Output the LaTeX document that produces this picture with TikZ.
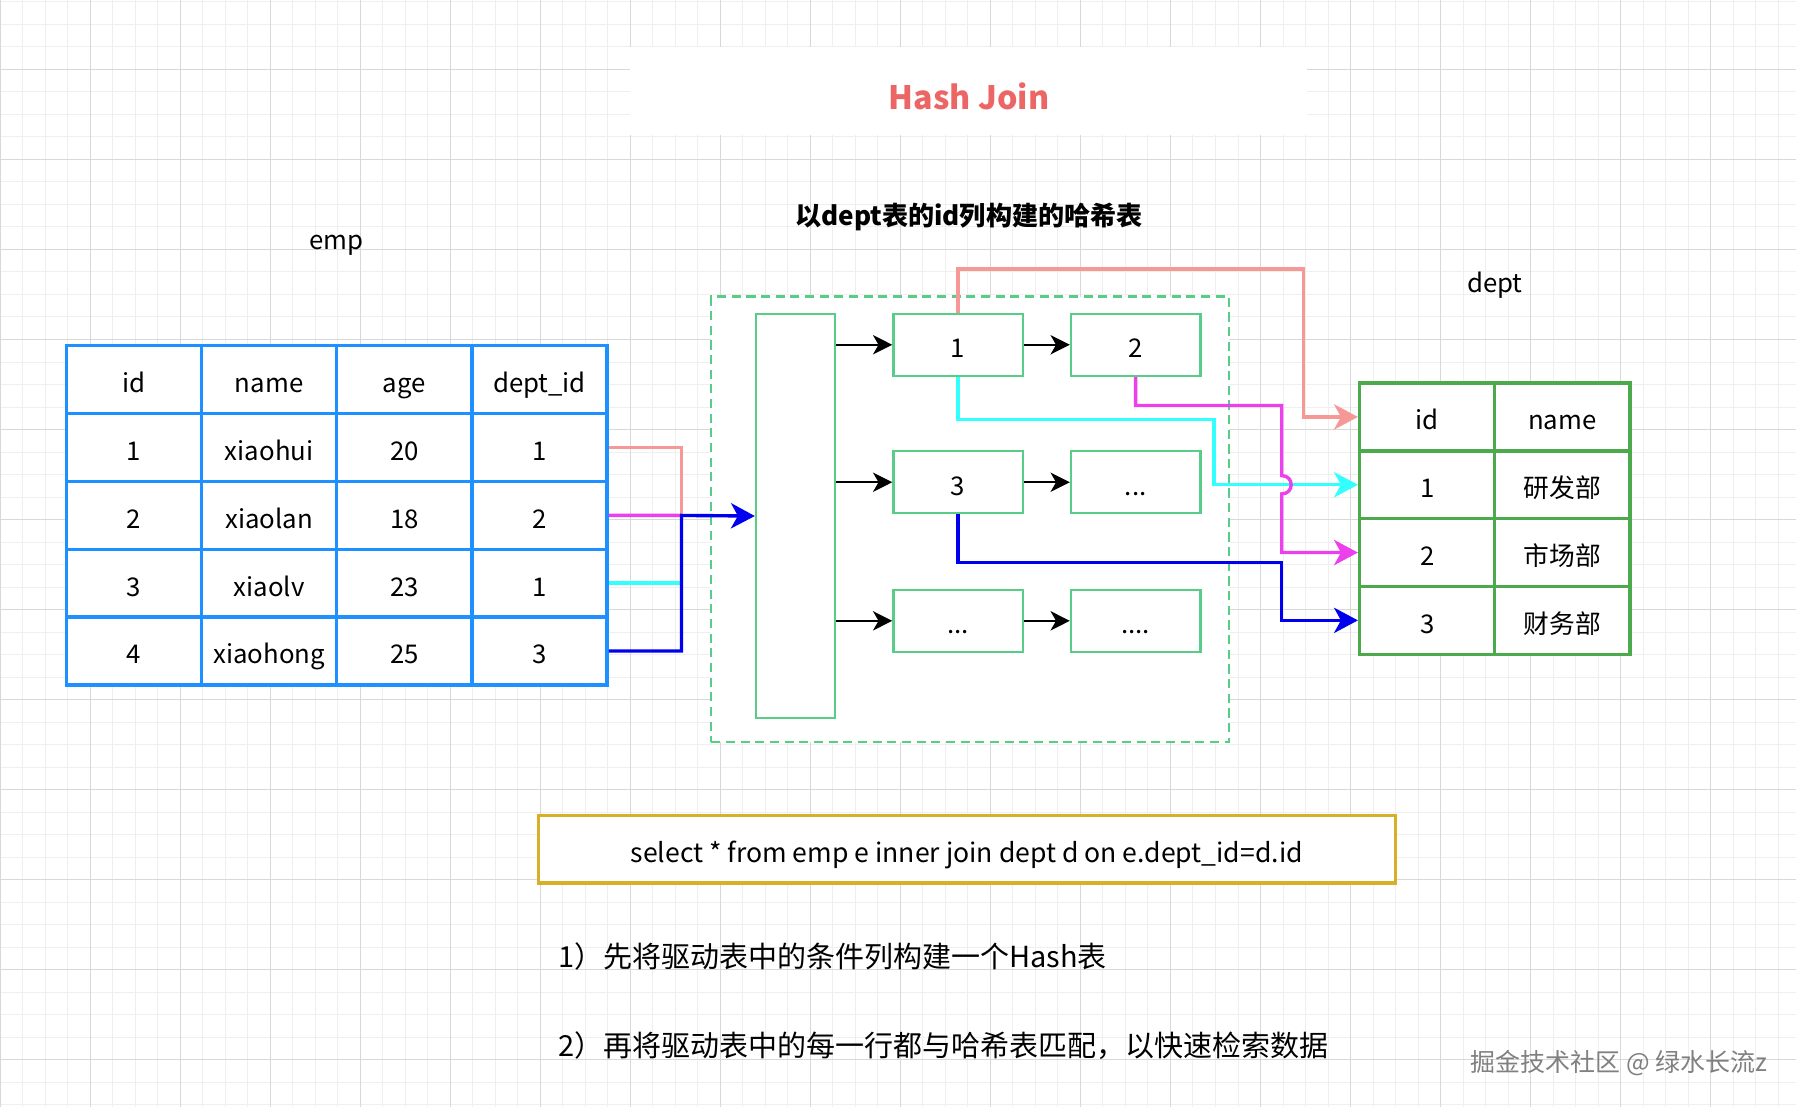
\documentclass[tikz,border=0pt]{standalone}
\usepackage{fontspec}
\setmainfont{Noto Sans CJK SC}
\usetikzlibrary{arrows.meta}

\definecolor{empblue}{RGB}{30,144,255}
\definecolor{deptgreen}{RGB}{76,170,76}
\definecolor{hashgreen}{RGB}{88,205,135}
\definecolor{linkpink}{RGB}{245,152,150}
\definecolor{linkmagenta}{RGB}{236,64,236}
\definecolor{linkcyan}{RGB}{51,255,255}
\definecolor{linkblue}{RGB}{0,0,238}
\definecolor{sqlgold}{RGB}{214,176,38}
\definecolor{titlered}{RGB}{236,102,102}
\definecolor{gridmajor}{RGB}{216,216,216}
\definecolor{gridminor}{RGB}{239,239,239}

\tikzset{
  cellfont/.style={font=\fontsize{16}{19}\selectfont, text height=1.6em, text depth=0pt},
  empcell/.style={draw=empblue, fill=white, line width=2.1pt, minimum width=2.95cm, minimum height=1.48cm, inner sep=0pt, cellfont},
  deptcell/.style={draw=deptgreen, fill=white, line width=2.1pt, minimum width=2.95cm, minimum height=1.48cm, inner sep=0pt, cellfont},
  bucket/.style={draw=hashgreen, fill=white, line width=1.4pt, minimum width=2.825cm, minimum height=1.35cm, inner sep=0pt, cellfont},
  chain/.style={-{Stealth[length=0.42cm, width=0.42cm, inset=0.12cm]}, line width=1.4pt, black},
  link/.style={line width=2.1pt},
  linkhead/.style={-{Stealth[length=0.52cm, width=0.55cm, inset=0.15cm]}},
}

\begin{document}
\begin{tikzpicture}[x=0.025cm, y=-0.025cm]
  \path[use as bounding box, fill=white] (0,0) rectangle (1568,966.5);
  % background grid
  \foreach \k in {0,...,80} \draw[gridminor, line width=0.5pt] (\k*19.65,0) -- (\k*19.65,966.5);
  \foreach \k in {-4,...,46} \draw[gridminor, line width=0.5pt] (0,60.5+\k*19.65) -- (1568,60.5+\k*19.65);
  \foreach \k in {0,...,20} \draw[gridmajor, line width=0.6pt] (\k*78.6,0) -- (\k*78.6,966.5);
  \foreach \k in {-1,...,11} \draw[gridmajor, line width=0.6pt] (0,60.5+\k*78.6) -- (1568,60.5+\k*78.6);

  % title and labels
  \fill[white] (550,41) rectangle (1141,118);
  \node[text=titlered, font=\fontsize{20}{24}\selectfont\bfseries] (title) at (846,84) {Hash Join};
  \node[font=\fontsize{16.2}{20}\selectfont\bfseries] (hashlabel) at (846,189) {以dept表的id列构建的哈希表};
  \node[cellfont] (emplabel) at (294,207) {emp};
  \node[cellfont] (deptlabel) at (1305,244) {dept};

  % emp table
  \foreach \r/\a/\b/\c/\d in {0/id/name/age/dept\_id, 1/1/xiaohui/20/1, 2/2/xiaolan/18/2, 3/3/xiaolv/23/1, 4/4/xiaohong/25/3} {
    \node[empcell] (emp-\r-1) at (117,331.5+\r*59.2) {\a};
    \node[empcell] (emp-\r-2) at (235,331.5+\r*59.2) {\b};
    \node[empcell] (emp-\r-3) at (353,331.5+\r*59.2) {\c};
    \node[empcell] (emp-\r-4) at (471,331.5+\r*59.2) {\d};
  }

  % dept table
  \foreach \r/\a/\b in {0/id/name, 1/1/研发部, 2/2/市场部, 3/3/财务部} {
    \node[deptcell] (dept-\r-1) at (1246,364+\r*59.2) {\a};
    \node[deptcell] (dept-\r-2) at (1364,364+\r*59.2) {\b};
  }

  % hash table
  \node[draw=hashgreen, fill=white, line width=1.4pt, dash pattern=on 0.2cm off 0.12cm, minimum width=11.3cm, minimum height=9.725cm] (hashbox) at (847,453.5) {};
  \node[draw=hashgreen, fill=white, line width=1.4pt, minimum width=1.725cm, minimum height=8.825cm] (slots) at (694.5,450.5) {};
  \node[bucket] (b11) at (836.5,301) {1};
  \node[bucket] (b12) at (991.5,301) {2};
  \node[bucket] (b21) at (836.5,421) {3};
  \node[bucket] (b22) at (991.5,421) {...};
  \node[bucket] (b31) at (836.5,542) {...};
  \node[bucket] (b32) at (991.5,542) {....};
  \foreach \i in {1,2,3} {
    \draw[chain] (slots.east |- b\i1.west) -- (b\i1.west);
    \draw[chain] (b\i1) -- (b\i2);
  }

  % emp rows into the hash table
  \coordinate (merge) at (595,450);
  \draw[link, linkpink] (emp-1-4.east) -| (merge);
  \draw[link, linkmagenta] (emp-2-4.east) -- (merge);
  \draw[link, linkcyan] (emp-3-4.east) -- (emp-3-4.east -| merge);
  \draw[link, linkblue, linkhead] (emp-4-4.east) -| (merge) -- (slots.west);

  % buckets to dept rows
  \coordinate (pinkturn) at (1138,235);
  \coordinate (cyanturn) at (1060,366);
  \coordinate (magturn) at (1119,354);
  \coordinate (blueturn) at (1119,491);
  \draw[link, linkpink, linkhead] (b11.north) |- (pinkturn) |- (dept-0-1.west);
  \draw[link, linkcyan, linkhead] (b11.south) |- (cyanturn) |- (dept-1-1.west);
  \draw[link, linkmagenta, linkhead] (b12.south) |- (magturn) -- (1119,415.2)
    .. controls (1130,415.2) and (1130,431.2) .. (1119,431.2) |- (dept-2-1.west);
  \draw[link, linkblue, linkhead] (b21.south) |- (blueturn) |- (dept-3-1.west);

  % query and notes
  \node[draw=sqlgold, fill=white, line width=2.1pt, minimum width=18.7cm, minimum height=1.475cm, cellfont, font=\fontsize{16.5}{19}\selectfont] (sql) at (844,741.5) {select * from emp e inner join dept d on e.dept\_id=d.id};
  \node[anchor=west, inner sep=0pt, font=\fontsize{18}{22}\selectfont] (step1) at (487,835) {1）先将驱动表中的条件列构建一个Hash表};
  \node[anchor=west, inner sep=0pt, font=\fontsize{18}{22}\selectfont] (step2) at (487,913) {2）再将驱动表中的每一行都与哈希表匹配，以快速检索数据};
  \node[anchor=east, inner sep=0pt, text=black!50, font=\fontsize{15.5}{18}\selectfont] (mark) at (1543,928) {掘金技术社区 @ 绿水长流z};
\end{tikzpicture}
\end{document}
